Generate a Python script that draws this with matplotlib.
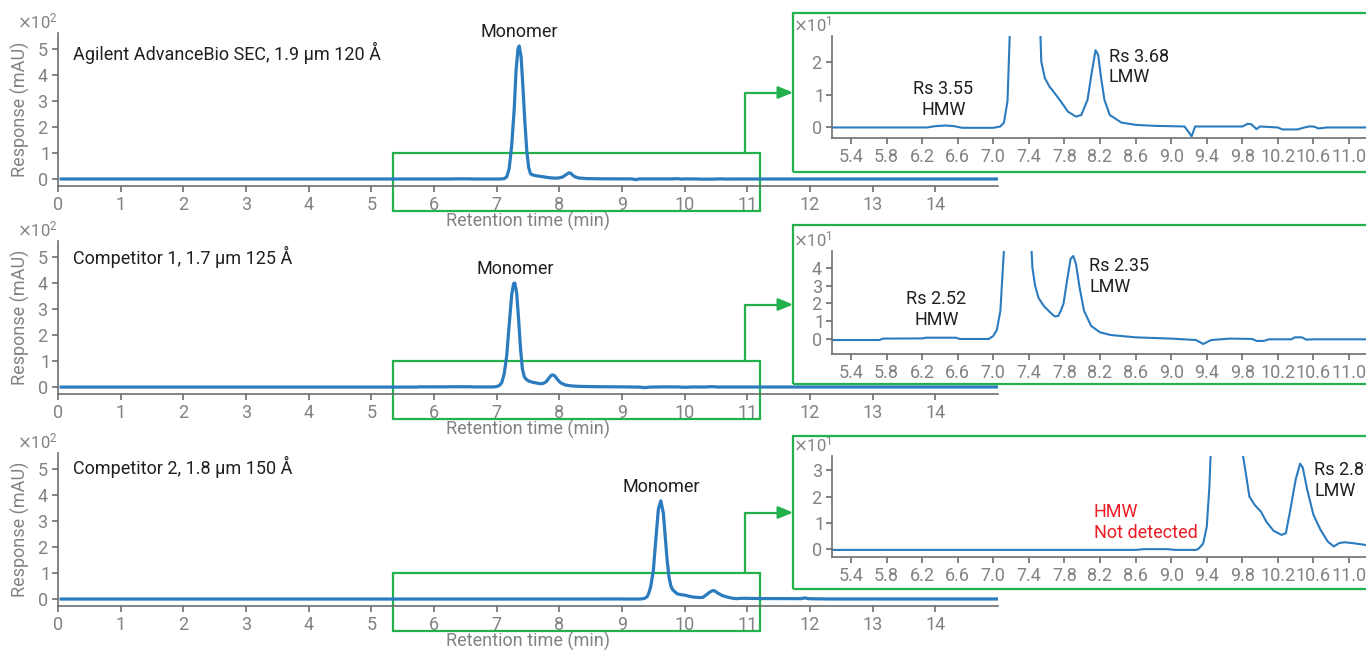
import matplotlib
matplotlib.use('Agg')
import matplotlib.pyplot as plt
from matplotlib.patches import Rectangle

plt.rcParams['font.family'] = ['Roboto', 'DejaVu Sans']

GREEN = '#22b14c'
BLUE = '#2b7bbf'
GRAY = '#808285'
SPINE = '#6d6e71'
BLACK = '#231f20'
RED = '#ed1c24'

W, H = 1366, 650

# column names
columns = ['Agilent AdvanceBio SEC, 1.9 µm 120 Å',
           'Competitor 1, 1.7 µm 125 Å',
           'Competitor 2, 1.8 µm 150 Å']

# retention time (min) / response (mAU)
time_agilent = [0.05, 5.2, 6.25, 6.35, 6.46, 6.56, 6.65, 7.0, 7.08, 7.12,
                7.16, 7.2, 7.24, 7.28, 7.31, 7.34, 7.36, 7.39, 7.42, 7.45,
                7.48, 7.51, 7.54, 7.58, 7.63, 7.68, 7.76, 7.84, 7.93, 7.99,
                8.06, 8.1, 8.15, 8.18, 8.21, 8.25, 8.31, 8.44, 8.6, 8.8,
                9.15, 9.2, 9.23, 9.27, 9.8, 9.86, 9.9, 9.96, 10.0, 10.2,
                10.25, 10.42, 10.5, 10.55, 10.6, 10.66, 10.75, 15.0]
resp_agilent = [0, 0, 0, 0.4, 0.6, 0.4, -0.1, -0.1, 0.3, 1.5,
                8, 40, 130, 270, 420, 500, 512, 470, 350, 220,
                110, 45, 20, 15, 12.5, 10.8, 7.9, 4.8, 3.3, 3.8,
                8.4, 15.5, 23.5, 22, 15.5, 8.4, 3.8, 1.5, 0.8, 0.5,
                0.3, -1.5, -2.7, 0.3, 0.3, 1.1, 1.0, -0.5, 0.3, 0.0,
                -0.6, -0.6, 0.0, 0.3, 0.3, -0.3, 0.0, 0.0]

time_comp1 = [0.05, 5.72, 5.76, 6.2, 6.24, 6.58, 6.62, 6.95, 7.0, 7.04,
              7.08, 7.12, 7.16, 7.2, 7.24, 7.27, 7.29, 7.32, 7.35, 7.38,
              7.41, 7.44, 7.47, 7.51, 7.57, 7.63, 7.69, 7.73, 7.76, 7.79,
              7.83, 7.87, 7.9, 7.93, 7.97, 8.02, 8.1, 8.2, 8.32, 8.6,
              9.0, 9.28, 9.36, 9.45, 9.66, 9.91, 9.96, 10.04, 10.1, 10.35,
              10.39, 10.47, 10.52, 10.6, 15.0]
resp_comp1 = [-0.4, -0.4, 0.4, 0.5, 0.9, 0.9, 0.2, 0.2, 1.9, 5.2,
              16, 50, 120, 240, 355, 398, 400, 360, 260, 150,
              70, 40, 30, 23, 18.5, 15.5, 12.8, 13, 16, 20,
              33, 45, 46.5, 42, 29, 16, 7.5, 3.9, 2.4, 1.1,
              0.4, -0.4, -2.6, -0.4, 0.4, 0.2, -0.9, -0.9, 0, 0,
              1.1, 1.1, -0.2, 0, 0]

time_comp2 = [0.05, 8.6, 8.7, 8.95, 9.05, 9.28, 9.31, 9.36, 9.4, 9.43,
              9.46, 9.5, 9.54, 9.58, 9.62, 9.66, 9.69, 9.72, 9.75, 9.78,
              9.81, 9.84, 9.88, 9.94, 10.01, 10.07, 10.15, 10.24, 10.29, 10.34,
              10.4, 10.45, 10.48, 10.53, 10.6, 10.68, 10.76, 10.83, 10.89, 10.95,
              11.08, 11.2, 11.5, 11.85, 11.92, 11.98, 12.3, 15.0]
resp_comp2 = [-0.2, -0.2, 0.1, 0.1, -0.2, -0.2, 0.3, 2.2, 8.5, 23.6,
              50, 110, 230, 345, 378, 330, 240, 150, 85, 50,
              35, 28.8, 20.0, 16.8, 14.3, 10.5, 7.1, 5.5, 6.1, 15,
              26.4, 32.5, 31, 22.6, 13.1, 7.4, 3.0, 1.1, 2.4, 2.7,
              2.2, 1.6, 1.5, 1.2, 4, 1, 0, 0]

times = [time_agilent, time_comp1, time_comp2]
resps = [resp_agilent, resp_comp1, resp_comp2]

main_xticks = list(range(15))
main_yticks = [0, 100, 200, 300, 400, 500]
inset_xticks = [5.4, 5.8, 6.2, 6.6, 7.0, 7.4, 7.8, 8.2, 8.6, 9.0, 9.4, 9.8, 10.2, 10.6, 11.0]
inset_yticks = [[0, 10, 20], [0, 10, 20, 30, 40], [0, 10, 20, 30]]
inset_ylims = [(-3.2, 27.8), (-8.2, 49.3), (-3.0, 35.5)]

# annotations inside zoom windows: (x, y, text, ha, color)
inset_notes = [
    [(6.44, 8.4, 'Rs 3.55\nHMW', 'center', BLACK), (8.30, 18.4, 'Rs 3.68\nLMW', 'left', BLACK)],
    [(6.36, 16.6, 'Rs 2.52\nHMW', 'center', BLACK), (8.08, 35.1, 'Rs 2.35\nLMW', 'left', BLACK)],
    [(8.13, 10.3, 'HMW\nNot detected', 'left', RED), (10.61, 26.2, 'Rs 2.81\nLMW', 'left', BLACK)],
]

# layout in pixels (from top)
main_top = [33, 241, 453]
inset_top = [36, 251, 455.7]
inset_h = [102, 103, 101.6]
frame_top = [13, 225, 436]
frame_bot = [172, 384, 589]
title_y = [0.87, 0.895, 0.91]
FS = 13


def style_axis(ax):
    for s in ['top', 'right']:
        ax.spines[s].set_visible(False)
    for s in ['left', 'bottom']:
        ax.spines[s].set_color(SPINE)
        ax.spines[s].set_linewidth(1.2)
    ax.tick_params(colors=SPINE, labelcolor=GRAY, labelsize=FS, length=4, width=1.2, pad=3)
    ax.ticklabel_format(axis='y', style='sci', scilimits=(0, 0), useMathText=True)
    off = ax.yaxis.get_offset_text()
    off.set_ha('right')
    off.set_fontsize(12)
    off.set_color(GRAY)


fig = plt.figure(figsize=(W / 100, H / 100), dpi=100)

for i in range(3):
    ax = fig.add_axes([58 / W, (H - main_top[i] - 153) / H, 940 / W, 153 / H])
    ax.plot(times[i], resps[i], color=BLUE, lw=2.3, zorder=3)
    ax.set_xlim(0, 15)
    ax.set_ylim(-27, 562)
    ax.set_xticks(main_xticks)
    ax.set_yticks(main_yticks)
    style_axis(ax)
    ax.set_xlabel('Retention time (min)', fontsize=FS, color=GRAY, labelpad=-1.5)
    ax.set_ylabel('Response (mAU)', fontsize=FS, color=GRAY)
    ax.yaxis.set_label_coords(-0.03, 0.5)
    ax.text(0.016, title_y[i], columns[i], transform=ax.transAxes, fontsize=FS,
            color=BLACK, ha='left', va='center')

    # monomer label above the tallest point
    k = resps[i].index(max(resps[i]))
    ax.annotate('Monomer', xy=(times[i][k], resps[i][k]), xytext=(0, 10),
                textcoords='offset points', ha='center', va='center',
                fontsize=FS, color=BLACK)

    # zoom window on the main trace
    ax.add_patch(Rectangle((5.34, -125), 11.2 - 5.34, 225, fill=False,
                           ec=GREEN, lw=1.6, clip_on=False, zorder=2))

    # frame around the zoomed view
    fig.add_artist(Rectangle((793 / W, (H - frame_bot[i]) / H), 600 / W,
                             (frame_bot[i] - frame_top[i]) / H, fill=False,
                             ec=GREEN, lw=1.6, transform=fig.transFigure))

    # arrow from zoom window to the frame
    arrow_y = (H - (frame_top[i] + frame_bot[i]) / 2) / H
    ax.annotate('', xy=(793 / W, arrow_y), xycoords='figure fraction',
                xytext=(10.96, 100), textcoords='data',
                arrowprops=dict(arrowstyle='-|>,head_length=0.6,head_width=0.25',
                                connectionstyle='angle,angleA=90,angleB=0,rad=0',
                                color=GREEN, lw=1.6, shrinkA=0, shrinkB=0,
                                mutation_scale=15))

    # zoomed view
    axi = fig.add_axes([832.3 / W, (H - inset_top[i] - inset_h[i]) / H, 534.5 / W, inset_h[i] / H])
    axi.patch.set_alpha(0)
    axi.plot(times[i], resps[i], color=BLUE, lw=1.5)
    axi.set_xlim(5.19, 11.2)
    axi.set_ylim(inset_ylims[i])
    axi.set_xticks(inset_xticks)
    axi.set_xticklabels(['%.1f' % v for v in inset_xticks])
    axi.set_yticks(inset_yticks[i])
    style_axis(axi)
    for x, y, s, ha, c in inset_notes[i]:
        axi.text(x, y, s, ha=ha, va='center', fontsize=FS, color=c,
                 multialignment=ha)

fig.savefig('out.png', dpi=100)
